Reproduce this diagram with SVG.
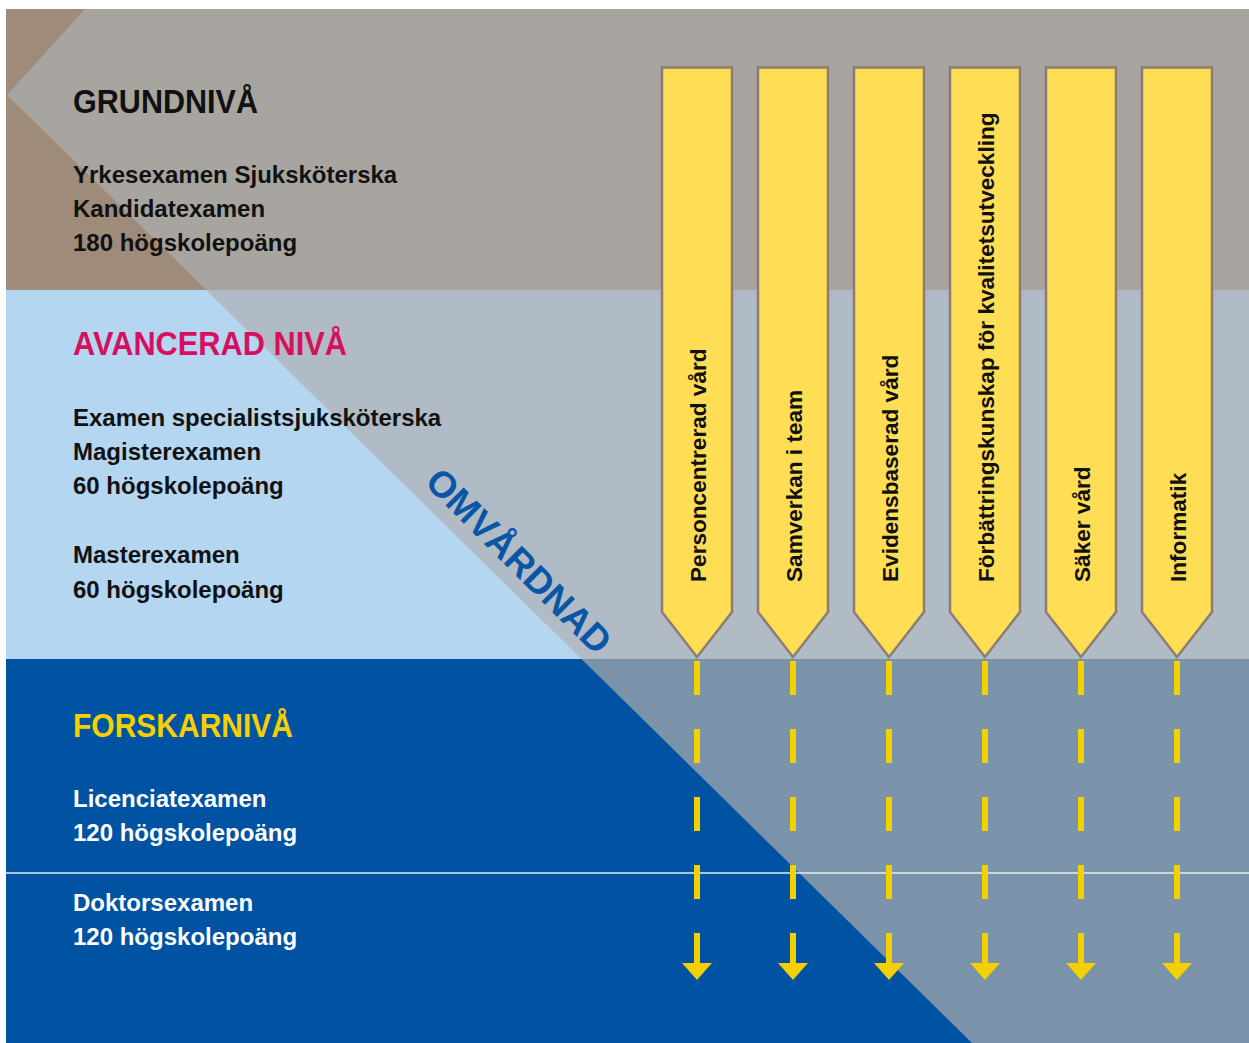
<svg xmlns="http://www.w3.org/2000/svg" width="1249" height="1043" viewBox="0 0 1249 1043">
<style>
.t{font-family:"Liberation Sans",Arial,sans-serif;font-weight:bold}
.title{font-size:33px}
.body{font-size:24px}
.col{fill:#ffdd55;stroke:#8c7e72;stroke-width:2.5}
.ctext{font-family:"Liberation Sans",Arial,sans-serif;font-weight:bold;font-size:22.6px;fill:#111}
.dash{stroke:#f5d000;stroke-width:6;stroke-dasharray:34 34;fill:none;marker-end:url(#ah)}
</style>
<defs>
<marker id="ah" markerUnits="userSpaceOnUse" viewBox="0 0 17 30" refX="0" refY="15" markerWidth="17" markerHeight="30" orient="auto">
<path d="M0,0 L17,15 L0,30 Z" fill="#f5d000"/>
</marker>
</defs>
<rect width="1249" height="1043" fill="#ffffff"/>
<g id="background">
<rect x="6" y="9" width="1243" height="281" fill="#9e8b7a"/>
<rect x="6" y="290" width="1243" height="369" fill="#b4d6f1"/>
<rect x="6" y="659" width="1243" height="384" fill="#0052a3"/>
<polygon points="85,9 1249,9 1249,290 206.3,290 7,95" fill="#a8a5a0"/>
<polygon points="206.3,290 1249,290 1249,659 581.5,659" fill="#b0bbc5"/>
<polygon points="581.5,659 1249,659 1249,1043 972,1043" fill="#7a93ab"/>
<line x1="6" y1="873" x2="1249" y2="873" stroke="#e6ecf2" stroke-width="1.5"/>
</g>
<g id="omvardnad">
<text class="t" x="510" y="570" transform="rotate(45 510 570)" text-anchor="middle" font-size="37" fill="#0a56a6">OMVÅRDNAD</text>
</g>
<g id="grundniva">
<text class="t title" x="73" y="113" fill="#111" textLength="185" lengthAdjust="spacingAndGlyphs">GRUNDNIVÅ</text>
<text class="t body" x="73" y="183" fill="#111">Yrkesexamen Sjuksköterska</text>
<text class="t body" x="73" y="217" fill="#111">Kandidatexamen</text>
<text class="t body" x="73" y="251" fill="#111">180 högskolepoäng</text>
</g>
<g id="avancerad-niva">
<text class="t title" x="73" y="355" fill="#d6105f" textLength="274" lengthAdjust="spacingAndGlyphs">AVANCERAD NIVÅ</text>
<text class="t body" x="73" y="426" fill="#111">Examen specialistsjuksköterska</text>
<text class="t body" x="73" y="460" fill="#111">Magisterexamen</text>
<text class="t body" x="73" y="494" fill="#111">60 högskolepoäng</text>
<text class="t body" x="73" y="563" fill="#111">Masterexamen</text>
<text class="t body" x="73" y="598" fill="#111">60 högskolepoäng</text>
</g>
<g id="forskarniva">
<text class="t title" x="73" y="737" fill="#f5d000" textLength="220" lengthAdjust="spacingAndGlyphs">FORSKARNIVÅ</text>
<text class="t body" x="73" y="807" fill="#ffffff">Licenciatexamen</text>
<text class="t body" x="73" y="841" fill="#ffffff">120 högskolepoäng</text>
<text class="t body" x="73" y="911" fill="#ffffff">Doktorsexamen</text>
<text class="t body" x="73" y="945" fill="#ffffff">120 högskolepoäng</text>
</g>
<g id="connectors">
<line class="dash" x1="697" y1="661" x2="697" y2="963"/>
<line class="dash" x1="793" y1="661" x2="793" y2="963"/>
<line class="dash" x1="889" y1="661" x2="889" y2="963"/>
<line class="dash" x1="985" y1="661" x2="985" y2="963"/>
<line class="dash" x1="1081" y1="661" x2="1081" y2="963"/>
<line class="dash" x1="1177" y1="661" x2="1177" y2="963"/>
</g>
<g id="col-personcentrerad">
<path class="col" d="M662,67.5 H732 V612 L697,657 L662,612 Z"/>
<text class="ctext" transform="translate(706 582) rotate(-90)">Personcentrerad vård</text>
</g>
<g id="col-samverkan">
<path class="col" d="M758,67.5 H828 V612 L793,657 L758,612 Z"/>
<text class="ctext" transform="translate(802 582) rotate(-90)">Samverkan i team</text>
</g>
<g id="col-evidensbaserad">
<path class="col" d="M854,67.5 H924 V612 L889,657 L854,612 Z"/>
<text class="ctext" transform="translate(898 582) rotate(-90)">Evidensbaserad vård</text>
</g>
<g id="col-forbattringskunskap">
<path class="col" d="M950,67.5 H1020 V612 L985,657 L950,612 Z"/>
<text class="ctext" transform="translate(994 582) rotate(-90)">Förbättringskunskap för kvalitetsutveckling</text>
</g>
<g id="col-saker-vard">
<path class="col" d="M1046,67.5 H1116 V612 L1081,657 L1046,612 Z"/>
<text class="ctext" transform="translate(1090 582) rotate(-90)">Säker vård</text>
</g>
<g id="col-informatik">
<path class="col" d="M1142,67.5 H1212 V612 L1177,657 L1142,612 Z"/>
<text class="ctext" transform="translate(1186 582) rotate(-90)">Informatik</text>
</g>
</svg>
